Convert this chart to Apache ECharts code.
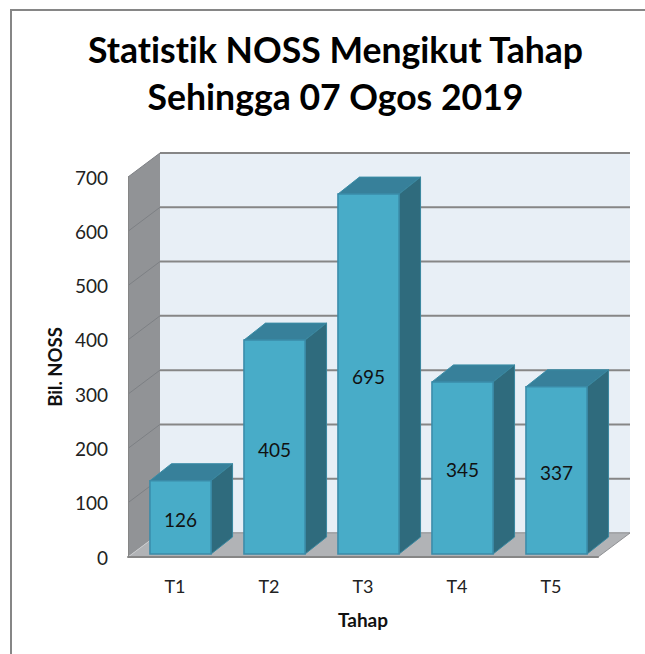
<!DOCTYPE html>
<html>
<head>
<meta charset="utf-8">
<style>html,body{margin:0;padding:0;background:#fff}#c{width:645px;height:654px}#c text{font-variant-ligatures:none}</style>
<script src="https://cdn.jsdelivr.net/npm/echarts@6/dist/echarts.min.js"></script>
</head>
<body>
<div id="c"></div>
<script>
var titleText = 'Statistik NOSS Mengikut Tahap\nSehingga 07 Ogos 2019';
var categories = ['T1', 'T2', 'T3', 'T4', 'T5'];
var barHeights = [135, 394, 663, 317, 308];
var barLabels = ['126', '405', '695', '345', '337'];
var yTicks = [0, 100, 200, 300, 400, 500, 600, 700];
var xName = 'Tahap';
var yName = 'Bil. NOSS';

var FONT = 'Lato';
var WALL_D = [32, -24];
var BAR_D = [21.5, -17];
var BAR_SHIFT = [5.5, -3];
var GRID_C = '#868686';

function poly(pts, fill, stroke, w) {
  return {type: 'polygon', shape: {points: pts},
    style: {fill: fill, stroke: stroke || null, lineWidth: w || 0}};
}
function line(a, b, c, w) {
  return {type: 'line', shape: {x1: a[0], y1: a[1], x2: b[0], y2: b[1]},
    style: {stroke: c, lineWidth: w, fill: null}};
}
function renderBackdrop(params, api) {
  var cs = params.coordSys;
  var L = cs.x, R = cs.x + cs.width, T = cs.y, B = cs.y + cs.height;
  var dx = WALL_D[0], dy = WALL_D[1];
  var kids = [
    poly([[L, T], [L + dx, T + dy], [L + dx, B + dy], [L, B]], '#919396'),
    poly([[L + dx, T + dy], [R + dx, T + dy], [R + dx, B + dy], [L + dx, B + dy]], '#e8eff6'),
    poly([[L, B], [L + dx, B + dy], [R + dx, B + dy], [R, B]], '#b1b3b6')
  ];
  yTicks.forEach(function (t) {
    var y = api.coord([0, t])[1];
    if (t > 0) {
      kids.push(line([L, y], [L + dx, y + dy], '#7d8084', 1));
    }
    kids.push(line([L + dx, y + dy], [R + dx, y + dy], t === 0 ? '#a4a6a9' : GRID_C, 2));
  });
  kids.push(line([L, B], [L + dx, B + dy], '#c9cbcd', 1));
  kids.push(line([R, B], [R + dx, B + dy], '#8f9194', 1));
  return {type: 'group', children: kids};
}
function renderBar(params, api) {
  var i = api.value(0);
  var base = api.coord([i, 0]);
  var top = api.coord([i, api.value(1)]);
  var w = api.size([1, 0])[0] * 0.65;
  var x0 = base[0] + BAR_SHIFT[0] - w / 2, x1 = x0 + w;
  var yB = base[1] + BAR_SHIFT[1], yT = top[1] + BAR_SHIFT[1];
  var dx = BAR_D[0], dy = BAR_D[1];
  return {type: 'group', children: [
    poly([[x0, yT], [x0 + dx, yT + dy], [x1 + dx, yT + dy], [x1, yT]], '#37809a', '#3a8ca6', 1),
    poly([[x1, yT], [x1 + dx, yT + dy], [x1 + dx, yB + dy], [x1, yB]], '#2f6b7d', '#39879f', 1),
    poly([[x0, yT], [x1, yT], [x1, yB], [x0, yB]], '#48acc8', '#3a8ba8', 1.5),
    {type: 'text', x: (x0 + x1) / 2, y: (yT + yB) / 2 + 2,
      style: {text: barLabels[i], fill: '#111', font: '19px ' + FONT,
        align: 'center', verticalAlign: 'middle'}}
  ]};
}

var chart = echarts.init(document.getElementById('c'), null, {renderer: 'svg'});
chart.setOption({
  animation: false,
  backgroundColor: '#fff',
  title: {
    text: titleText, left: 330.5, top: 21, textAlign: 'center',
    textStyle: {fontFamily: FONT, fontWeight: 'bold', fontSize: 35.6, lineHeight: 47, color: '#000'}
  },
  graphic: [{
    type: 'polyline', silent: true,
    shape: {points: [[11, 654], [11, 10], [645, 10]]},
    style: {stroke: '#868686', lineWidth: 2, fill: null}
  }],
  grid: {left: 128, right: 47, top: 177, height: 380, containLabel: false},
  xAxis: {
    type: 'category', data: categories, z: 5,
    name: xName, nameLocation: 'middle', nameGap: 53,
    nameTextStyle: {fontFamily: FONT, fontWeight: 'bold', fontSize: 19, color: '#111'},
    axisTick: {show: false},
    axisLine: {lineStyle: {color: GRID_C, width: 2}},
    axisLabel: {fontFamily: FONT, fontSize: 18, color: '#222', margin: 20}
  },
  yAxis: {
    type: 'value', min: 0, max: 700, interval: 100, z: 5,
    name: yName, nameLocation: 'middle', nameGap: 62, nameRotate: 90,
    nameTextStyle: {fontFamily: FONT, fontWeight: 'bold', fontSize: 18.5, color: '#111'},
    axisTick: {show: false},
    axisLine: {show: true, lineStyle: {color: GRID_C, width: 1}},
    splitLine: {show: false},
    axisLabel: {fontFamily: FONT, fontSize: 19, color: '#222', margin: 20, padding: [7, 0, 0, 0]}
  },
  series: [
    {type: 'custom', silent: true, clip: false, data: [[0, 0]], renderItem: renderBackdrop,
      encode: {x: 0, y: 1}},
    {type: 'custom', silent: true, clip: false,
      data: categories.map(function (c, i) { return [i, barHeights[i]]; }),
      renderItem: renderBar, encode: {x: 0, y: 1}}
  ]
});
</script>
</body>
</html>
